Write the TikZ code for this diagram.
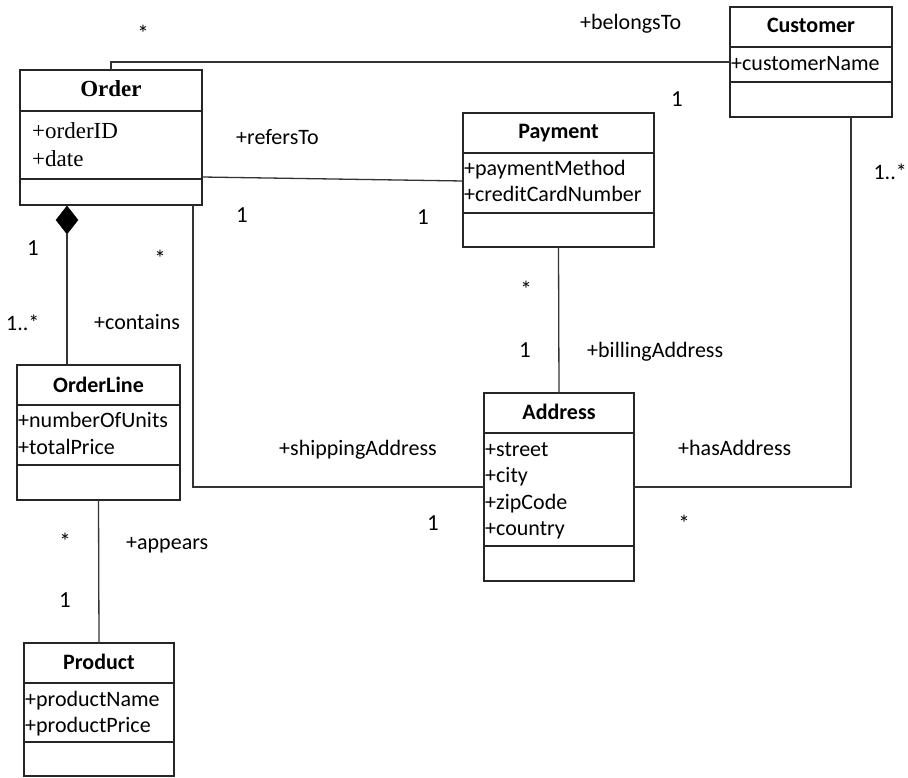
\documentclass[tikz,border=0pt]{standalone}
\usepackage{fontspec}
\setmainfont{Carlito}
\newfontfamily\tnrfont{Liberation Serif}
\usetikzlibrary{shapes.geometric}
\begin{document}
\begin{tikzpicture}[x=1pt,y=-1pt,
  every node/.style={font=\fontsize{22}{26}\selectfont},
  box/.style={draw=black!85, line width=1.3pt, inner sep=0pt, outer sep=0pt},
  sep/.style={draw=black!85, line width=1.3pt},
  conn/.style={draw=black!80, line width=1.3pt},
  attr/.style={anchor=base west, inner sep=0pt},
  ttl/.style={anchor=base, inner sep=0pt, font=\fontsize{22}{26}\selectfont\bfseries},
  sttl/.style={anchor=base, inner sep=0pt, font=\tnrfont\fontsize{23}{26}\selectfont\bfseries},
  sattr/.style={anchor=base west, inner sep=0pt, font=\tnrfont\fontsize{23}{26}\selectfont},
  lbl/.style={anchor=base west, inner sep=0pt},
  mult/.style={anchor=base, inner sep=0pt, font=\fontsize{23}{26}\selectfont}]
\useasboundingbox (0,0) rectangle (908,778);

% ---------- class boxes ----------
\node[box, minimum width=182pt, minimum height=135pt] (order) at (111,137.5) {};
\node[box, minimum width=162pt, minimum height=110pt] (customer) at (811,62) {};
\node[box, minimum width=191pt, minimum height=134pt] (payment) at (558.5,180) {};
\node[box, minimum width=163pt, minimum height=135pt] (orderline) at (98.5,432.5) {};
\node[box, minimum width=150pt, minimum height=188pt] (address) at (559,487) {};
\node[box, minimum width=150pt, minimum height=133pt] (product) at (99,709.5) {};

% ---------- compartments ----------
\draw[sep] (order.west |- 0,111) -- (order.east |- 0,111);
\draw[sep] (order.west |- 0,179) -- (order.east |- 0,179);
\draw[sep] (customer.west |- 0,47) -- (customer.east |- 0,47);
\draw[sep] (customer.west |- 0,82) -- (customer.east |- 0,82);
\draw[sep] (payment.west |- 0,153) -- (payment.east |- 0,153);
\draw[sep] (payment.west |- 0,213) -- (payment.east |- 0,213);
\draw[sep] (orderline.west |- 0,405) -- (orderline.east |- 0,405);
\draw[sep] (orderline.west |- 0,465) -- (orderline.east |- 0,465);
\draw[sep] (address.west |- 0,433) -- (address.east |- 0,433);
\draw[sep] (address.west |- 0,546) -- (address.east |- 0,546);
\draw[sep] (product.west |- 0,683) -- (product.east |- 0,683);
\draw[sep] (product.west |- 0,742) -- (product.east |- 0,742);

% ---------- class texts ----------
\node[sttl] (orderT) at (111,97) {Order};
\node[sattr] (orderA1) at (32,139) {+orderID};
\node[sattr] (orderA2) at (32,167) {+date};

\node[ttl] (customerT) at (811,33) {Customer};
\node[attr] (customerA1) at (731,71) {+customerName};

\node[ttl] (paymentT) at (558.5,139) {Payment};
\node[attr] (paymentA1) at (464,176) {+paymentMethod};
\node[attr] (paymentA2) at (464,202) {+creditCardNumber};

\node[ttl] (orderlineT) at (98.5,392) {OrderLine};
\node[attr] (orderlineA1) at (18,427) {+numberOfUnits};
\node[attr] (orderlineA2) at (18,454) {+totalPrice};

\node[ttl] (addressT) at (559,419) {Address};
\node[attr] (addressA1) at (485,456) {+street};
\node[attr] (addressA2) at (485,482) {+city};
\node[attr] (addressA3) at (485,509) {+zipCode};
\node[attr] (addressA4) at (485,535) {+country};

\node[ttl] (productT) at (99,669) {Product};
\node[attr] (productA1) at (25,706) {+productName};
\node[attr] (productA2) at (25,732) {+productPrice};

% ---------- composition diamond ----------
\node[diamond, fill=black, draw=black, inner sep=0pt, outer sep=0pt,
      aspect=0.79, minimum width=22pt, minimum height=28pt] (comp) at (67,220) {};

% ---------- connectors ----------
\draw[conn] (order.north) |- (customer.west |- 0,62);
\draw[conn] (order.east |- 0,177) -- (payment.west |- 0,181);
\draw[conn] (comp.south) -- (comp.south |- orderline.north);
\draw[conn] (order.south -| 193,0) |- (address.west);
\draw[conn] (customer.south -| 851,0) |- (address.east);
\draw[conn] (payment.south) -- (address.north);
\draw[conn] (orderline.south) -- (product.north);

% ---------- role names ----------
\node[lbl] (rBelongs) at (580,30) {+belongsTo};
\node[lbl] (rRefers) at (236,145) {+refersTo};
\node[lbl] (rContains) at (94,329) {+contains};
\node[lbl] (rBilling) at (587,357) {+billingAddress};
\node[lbl] (rShipping) at (279,455) {+shippingAddress};
\node[lbl] (rHas) at (678,455) {+hasAddress};
\node[lbl] (rAppears) at (126,549) {+appears};

% ---------- multiplicities ----------
\node[mult] (m1) at (143,42) {*};
\node[mult] (m2) at (677,107) {1};
\node[anchor=base east, inner sep=0pt] (m3) at (907,180) {1..*};
\node[mult] (m4) at (242,223) {1};
\node[mult] (m5) at (423,225) {1};
\node[mult] (m6) at (33,255) {1};
\node[mult] (m7) at (160,267) {*};
\node[lbl]  (m8) at (6,330) {1..*};
\node[mult] (m9) at (526,298) {*};
\node[mult] (m10) at (525,357) {1};
\node[mult] (m11) at (433,530) {1};
\node[mult] (m12) at (684,531) {*};
\node[mult] (m13) at (65,549) {*};
\node[mult] (m14) at (65,607) {1};
\end{tikzpicture}
\end{document}
